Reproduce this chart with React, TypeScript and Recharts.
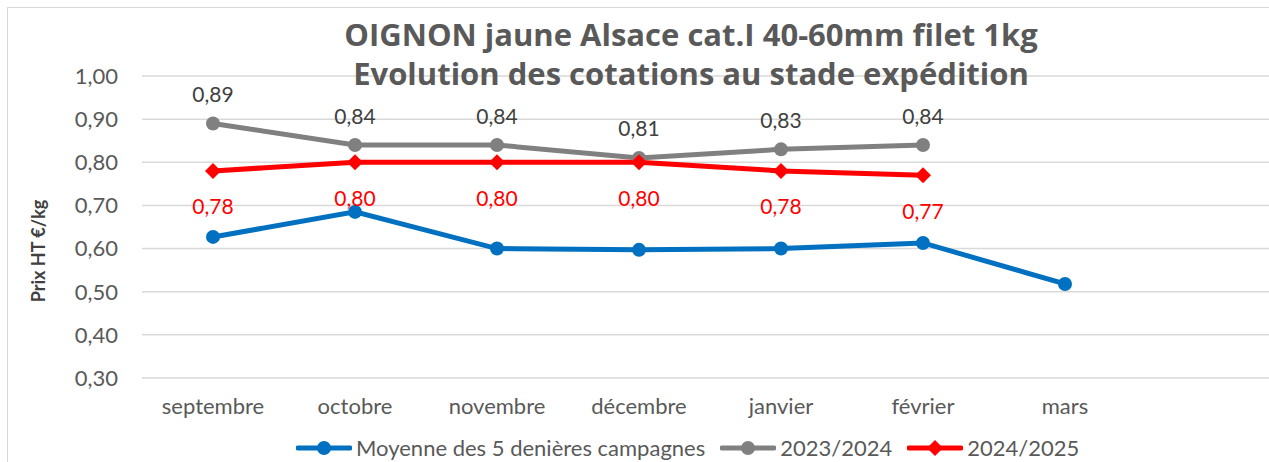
import { LineChart, Line, XAxis, YAxis, CartesianGrid, LabelList } from 'recharts'

const months = ['septembre', 'octobre', 'novembre', 'décembre', 'janvier', 'février', 'mars', '']
const moyenne5 = [0.627, 0.685, 0.6, 0.597, 0.6, 0.613, 0.518, null]
const campagne2324 = [0.89, 0.84, 0.84, 0.81, 0.83, 0.84, null, null]
const campagne2425 = [0.78, 0.8, 0.8, 0.8, 0.78, 0.77, null, null]
const yTicks = [0.3, 0.4, 0.5, 0.6, 0.7, 0.8, 0.9, 1.0]
const titleLines = ['OIGNON jaune Alsace cat.I 40-60mm filet 1kg', 'Evolution des cotations au stade expédition']

const data = months.map((m, i) => ({
  month: m,
  moy: moyenne5[i],
  s2324: campagne2324[i],
  s2425: campagne2425[i],
}))

const FONT = 'Lato, "Open Sans", sans-serif'
const fmt = (v: number) => v.toFixed(2).replace('.', ',')

function Diamond(props: any) {
  const { cx, cy, index } = props
  if (cx == null || cy == null) return <g key={`d${index}`} />
  const r = 8
  return (
    <path
      key={`d${index}`}
      d={`M${cx},${cy - r} L${cx + r},${cy} L${cx},${cy + r} L${cx - r},${cy} Z`}
      fill="#FF0000"
    />
  )
}

function labelAt(dy: number, color: string) {
  return (props: any) => {
    const { x, y, value } = props
    if (value == null) return null
    return (
      <text x={x} y={y + dy} textAnchor="middle" dominantBaseline="central"
        fill={color} fontSize={21} fontFamily={FONT}>
        {fmt(value)}
      </text>
    )
  }
}

function AxisTitle(props: any) {
  const { viewBox } = props
  const cy = viewBox.y + viewBox.height / 2 + 24
  return (
    <text x={30} y={cy} transform={`rotate(-90, 30, ${cy})`} textAnchor="middle"
      dominantBaseline="central" fill="#404040" fontSize={18} fontWeight="bold" fontFamily={FONT}>
      Prix HT €/kg
    </text>
  )
}

function LegendItem({ color, label, diamond }: { color: string; label: string; diamond?: boolean }) {
  return (
    <span style={{ display: 'flex', alignItems: 'center', gap: 4 }}>
      <svg width={56} height={16}>
        <line x1={2} y1={8} x2={54} y2={8} stroke={color} strokeWidth={5} strokeLinecap="round" />
        {diamond
          ? <path d="M28,0 L36,8 L28,16 L20,8 Z" fill={color} />
          : <circle cx={28} cy={8} r={7} fill={color} />}
      </svg>
      <span>{label}</span>
    </span>
  )
}

export default function App() {
  return (
    <div style={{
      position: 'fixed', left: 7, top: 7, width: 1300, height: 470,
      borderLeft: '1.5px solid #d9d9d9', borderTop: '1.5px solid #d9d9d9',
      background: '#fff', fontFamily: FONT, overflow: 'hidden',
    }}>
      {titleLines.map((t, i) => (
        <div key={t} style={{
          position: 'absolute', left: 0, width: 1366, top: 11 + i * 39, textAlign: 'center',
          color: '#595959', fontFamily: '"Open Sans", sans-serif', fontWeight: 'bold',
          fontSize: 31, lineHeight: '31px', zIndex: 2, pointerEvents: 'none',
        }}>
          {t}
        </div>
      ))}
      <LineChart width={1300} height={470} data={data}
        margin={{ top: 68, right: 30, left: 0, bottom: 60 }}>
        <CartesianGrid vertical={false} stroke="#d9d9d9" strokeWidth={1.5} />
        <XAxis dataKey="month" axisLine={false} tickLine={false} tickSize={6} tickMargin={14}
          height={40} interval={0} padding={{ left: 71, right: 71 }}
          tick={{ fill: '#595959', fontSize: 22, fontFamily: FONT }} />
        <YAxis domain={[0.3, 1.0]} ticks={yTicks} width={134} axisLine={false} tickLine={false}
          tickSize={6} tickMargin={18} tickFormatter={fmt}
          tick={{ fill: '#595959', fontSize: 22, fontFamily: FONT }}
          label={<AxisTitle />} />
        <Line dataKey="moy" stroke="#0070C0" strokeWidth={5} isAnimationActive={false}
          dot={{ r: 7, fill: '#0070C0', stroke: '#0070C0', strokeWidth: 0 }} activeDot={false} />
        <Line dataKey="s2324" stroke="#808080" strokeWidth={5} isAnimationActive={false}
          dot={{ r: 7, fill: '#808080', stroke: '#808080', strokeWidth: 0 }} activeDot={false}>
          <LabelList dataKey="s2324" content={labelAt(-30, '#404040')} />
        </Line>
        <Line dataKey="s2425" stroke="#FF0000" strokeWidth={5} isAnimationActive={false}
          dot={Diamond} activeDot={false}>
          <LabelList dataKey="s2425" content={labelAt(35, '#FF0000')} />
        </Line>
      </LineChart>
      <div style={{
        position: 'absolute', left: 288, top: 426, display: 'flex', gap: 15,
        color: '#595959', fontSize: 22, fontFamily: FONT, alignItems: 'center',
      }}>
        <LegendItem color="#0070C0" label="Moyenne des 5 denières campagnes" />
        <LegendItem color="#808080" label="2023/2024" />
        <LegendItem color="#FF0000" label="2024/2025" diamond />
      </div>
    </div>
  )
}
